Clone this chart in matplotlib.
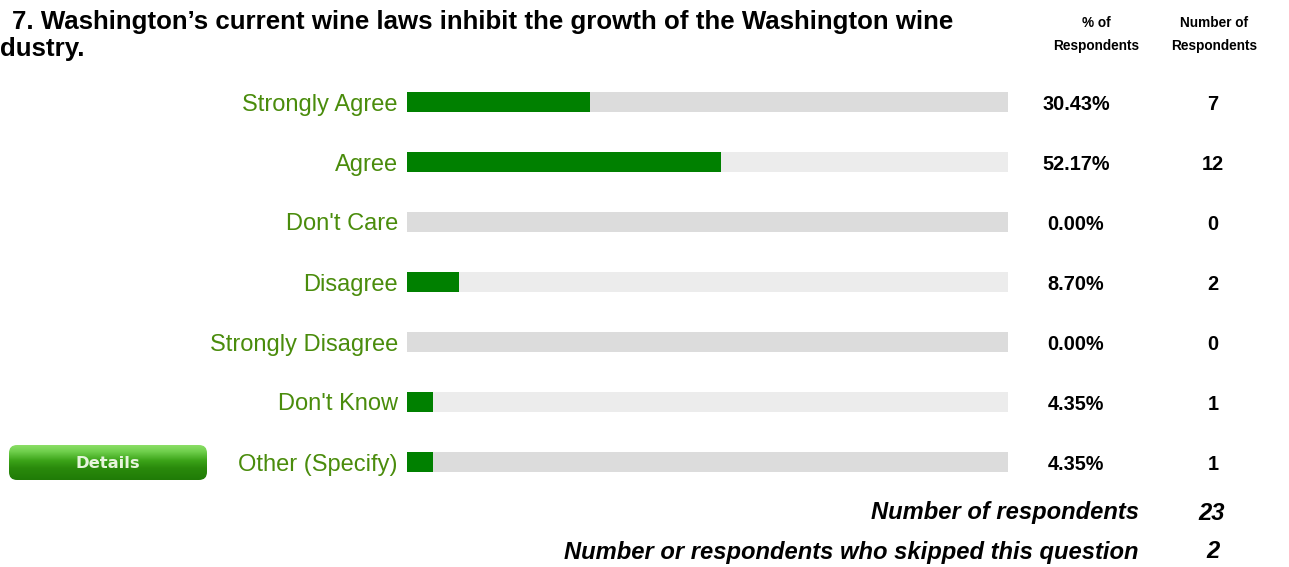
import matplotlib
matplotlib.use("Agg")
import matplotlib.pyplot as plt
import numpy as np
from matplotlib.patches import FancyBboxPatch
from matplotlib.transforms import blended_transform_factory
from matplotlib.colors import LinearSegmentedColormap

plt.rcParams['font.family'] = ['Liberation Sans', 'DejaVu Sans']

# ---- data ----
categories = ["Strongly Agree", "Agree", "Don't Care", "Disagree",
              "Strongly Disagree", "Don't Know", "Other (Specify)"]
percents = [30.43, 52.17, 0.00, 8.70, 0.00, 4.35, 4.35]
counts = [7, 12, 0, 2, 0, 1, 1]
title_line1 = "7. Washington\u2019s current wine laws inhibit the growth of the Washington wine"
title_line2 = "dustry."
total_respondents = 23
skipped = 2

W, H = 1289, 567
fig = plt.figure(figsize=(W / 100, H / 100), dpi=100)
fig.patch.set_facecolor("white")

def fx(px):
    return px / W

def fy(py):
    return 1 - py / H

# bar axes: x 407..1008, rows centred at 102..462 (60px spacing)
ax = fig.add_axes([fx(407), fy(492), fx(1008) - fx(407), (492 - 72) / H])
n = len(categories)
ypos = np.arange(n)
bg_colors = ["#dcdcdc" if i % 2 == 0 else "#ececec" for i in range(n)]
ax.barh(ypos, [100] * n, height=0.34, color=bg_colors, edgecolor="none")
ax.barh(ypos, percents, height=0.34, color="#008000", edgecolor="none")
ax.set_xlim(0, 100)
ax.set_ylim(n - 0.5, -0.5)
ax.set_yticks(ypos)
ax.set_yticklabels(categories, color="#4a8c0c", fontsize=17)
ax.tick_params(axis="y", length=0, pad=6.5)
ax.set_xticks([])
for s in ax.spines.values():
    s.set_visible(False)
ax.patch.set_alpha(0)

tr = blended_transform_factory(fig.transFigure, ax.transData)
for i in range(n):
    ax.text(fx(1076), i + 0.05, f"{percents[i]:.2f}%", transform=tr, ha="center",
            va="center", fontsize=14.3, fontweight="bold", color="black")
    ax.text(fx(1213), i + 0.05, f"{counts[i]}", transform=tr, ha="center",
            va="center", fontsize=14.3, fontweight="bold", color="black")

# headers
hs = 9.8
fig.text(fx(1096), fy(23), "% of", ha="center", va="center", fontsize=hs, fontweight="bold")
fig.text(fx(1096), fy(46), "Respondents", ha="center", va="center", fontsize=hs, fontweight="bold")
fig.text(fx(1214), fy(23), "Number of", ha="center", va="center", fontsize=hs, fontweight="bold")
fig.text(fx(1214), fy(46), "Respondents", ha="center", va="center", fontsize=hs, fontweight="bold")

# title
fig.text(fx(12), fy(22), title_line1, ha="left", va="center", fontsize=18.6, fontweight="bold")
fig.text(fx(0), fy(49), title_line2, ha="left", va="center", fontsize=18.6, fontweight="bold")

# bottom summary
bs = 17.1
fig.text(fx(1139), fy(513), "Number of respondents", ha="right", va="center",
         fontsize=bs, fontweight="bold", style="italic")
fig.text(fx(1212), fy(513), f"{total_respondents}", ha="center", va="center",
         fontsize=bs, fontweight="bold", style="italic")
fig.text(fx(1139), fy(552), "Number or respondents who skipped this question", ha="right",
         va="center", fontsize=bs, fontweight="bold", style="italic")
fig.text(fx(1213), fy(552), f"{skipped}", ha="center", va="center",
         fontsize=bs, fontweight="bold", style="italic")

# Details button
bax = fig.add_axes([fx(8), fy(481), fx(208) - fx(8), (481 - 444) / H])
bax.set_xlim(0, 200)
bax.set_ylim(0, 37)
bax.axis("off")
cmap = LinearSegmentedColormap.from_list(
    "btn", [(0.0, "#1f7a06"), (0.35, "#2a8a0c"), (0.55, "#3ba318"), (0.8, "#6fcf4c"), (1.0, "#8fe06a")])
grad = np.linspace(0, 1, 100).reshape(-1, 1)
im = bax.imshow(grad, cmap=cmap, aspect="auto", extent=[0, 200, 0, 37], origin="lower")
clip = FancyBboxPatch((1, 1), 198, 35, boxstyle="round,pad=0,rounding_size=8",
                      transform=bax.transData, facecolor="none", edgecolor="none")
bax.add_patch(clip)
im.set_clip_path(clip)
bax.text(100, 18, "Details", ha="center", va="center", fontsize=11.8, fontweight="bold",
         color="#e6f4dc", family=["DejaVu Sans"])

fig.savefig("out.png", dpi=100, facecolor="white")
